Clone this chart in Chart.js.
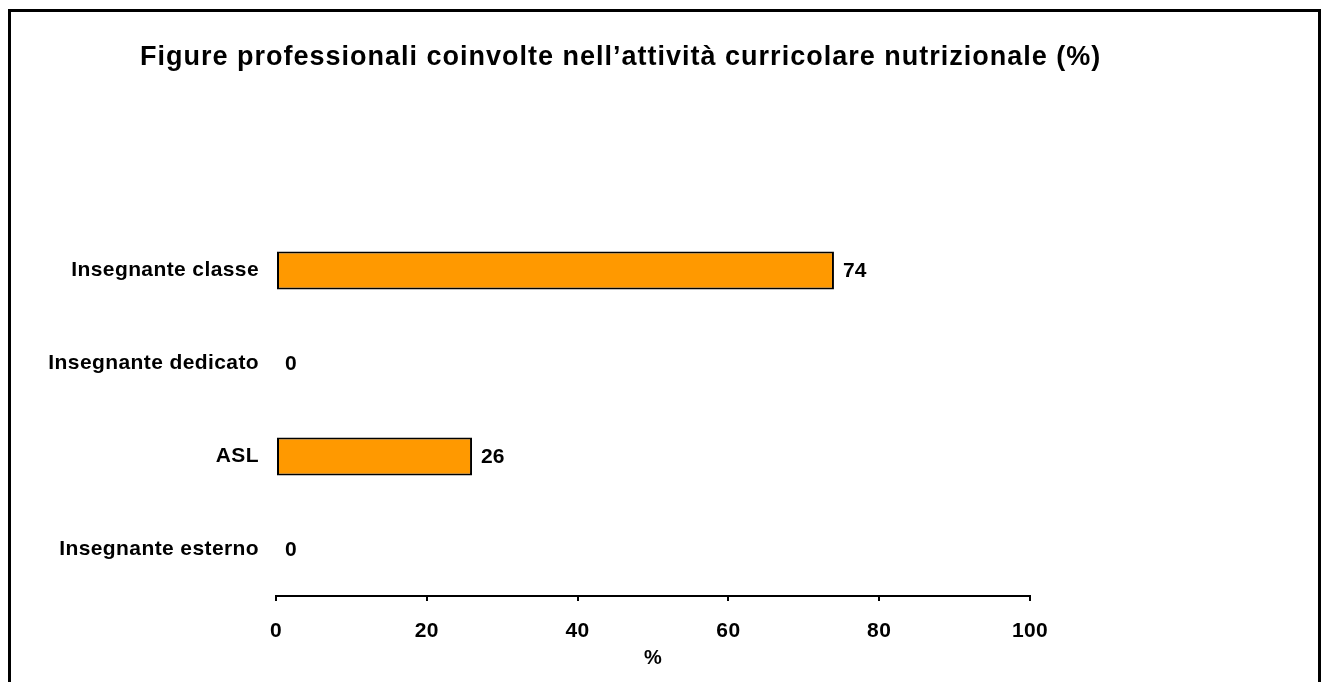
<!DOCTYPE html>
<html>
<head>
<meta charset="utf-8">
<script src="https://cdn.jsdelivr.net/npm/chart.js@4.4.0/dist/chart.umd.min.js"></script>
<style>
  html, body { margin: 0; padding: 0; background: #fff; overflow: hidden; }
  #frame { position: absolute; left: 8px; top: 9px; width: 1313px; height: 700px; border: 3px solid #000; box-sizing: border-box; }
  #wrap { position: absolute; left: 0; top: 0; width: 1321px; height: 682px; }
</style>
</head>
<body>
<div id="frame"></div>
<div id="wrap"><canvas id="myChart" width="1321" height="682"></canvas></div>
<script>
// chart data
const Title = 'Figure professionali coinvolte nell\u2019attività curricolare nutrizionale (%)';
const Figure = ['Insegnante classe', 'Insegnante dedicato', 'ASL', 'Insegnante esterno'];
const Percent = [74, 0, 26, 0];
const AxisMin = 0, AxisMax = 100, AxisStep = 20;
const AxisTitle = '%';

const FONT = '"Liberation Sans", Arial, sans-serif';

// slightly wider text spacing like the original
const spacing = {
  id: 'spacing',
  beforeUpdate(c) { c.ctx.letterSpacing = '0.4px'; },
  beforeDraw(c) { c.ctx.letterSpacing = '0.4px'; }
};

// title at top left
const topTitle = {
  id: 'topTitle',
  afterDraw(c) {
    const ctx = c.ctx;
    ctx.save();
    ctx.letterSpacing = '1px';
    ctx.font = 'bold 27px ' + FONT;
    ctx.fillStyle = '#000';
    ctx.textAlign = 'left';
    ctx.textBaseline = 'alphabetic';
    ctx.fillText(Title, 140, 65);
    ctx.restore();
  }
};

// numbers after the bars
const valueLabels = {
  id: 'valueLabels',
  afterDatasetsDraw(c) {
    const ctx = c.ctx;
    const meta = c.getDatasetMeta(0);
    ctx.save();
    ctx.letterSpacing = '0px';
    ctx.font = 'bold 21px ' + FONT;
    ctx.fillStyle = '#000';
    ctx.textAlign = 'left';
    ctx.textBaseline = 'middle';
    meta.data.forEach(function (bar, i) {
      ctx.fillText(String(Percent[i]), bar.x + 9, bar.y + 1);
    });
    ctx.restore();
  }
};

var ctx = document.getElementById('myChart').getContext('2d');
var myChart = new Chart(ctx, {
  type: 'bar',
  data: {
    labels: Figure,
    datasets: [{
      data: Percent,
      backgroundColor: '#FF9900',
      borderColor: '#000',
      borderWidth: function (c) { return c.raw > 0 ? 2 : 0; },
      borderSkipped: false,
      barPercentage: 0.41,
      categoryPercentage: 1
    }]
  },
  options: {
    indexAxis: 'y',
    responsive: false,
    animation: false,
    devicePixelRatio: 1,
    layout: { padding: { top: 224, right: 291, bottom: 0, left: 0 } },
    plugins: {
      legend: { display: false },
      title: { display: false },
      tooltip: { enabled: false }
    },
    scales: {
      x: {
        min: AxisMin,
        max: AxisMax,
        ticks: { stepSize: AxisStep, color: '#000', font: { family: FONT, size: 21, weight: 'bold' }, padding: 18, maxRotation: 0 },
        grid: { drawOnChartArea: false, drawTicks: true, tickLength: 5, color: '#000', lineWidth: 2 },
        border: { display: true, color: '#000', width: 2 },
        title: { display: true, text: AxisTitle, color: '#000', font: { family: FONT, size: 20, weight: 'bold' }, padding: { top: 0, bottom: 12 } },
        afterFit: function (s) { s.height = 86; }
      },
      y: {
        ticks: { color: '#000', font: { family: FONT, size: 21, weight: 'bold' }, padding: 17 },
        grid: { display: false, drawTicks: false },
        border: { display: false },
        afterFit: function (s) { s.width = 276; }
      }
    }
  },
  plugins: [spacing, topTitle, valueLabels]
});
</script>
</body>
</html>
